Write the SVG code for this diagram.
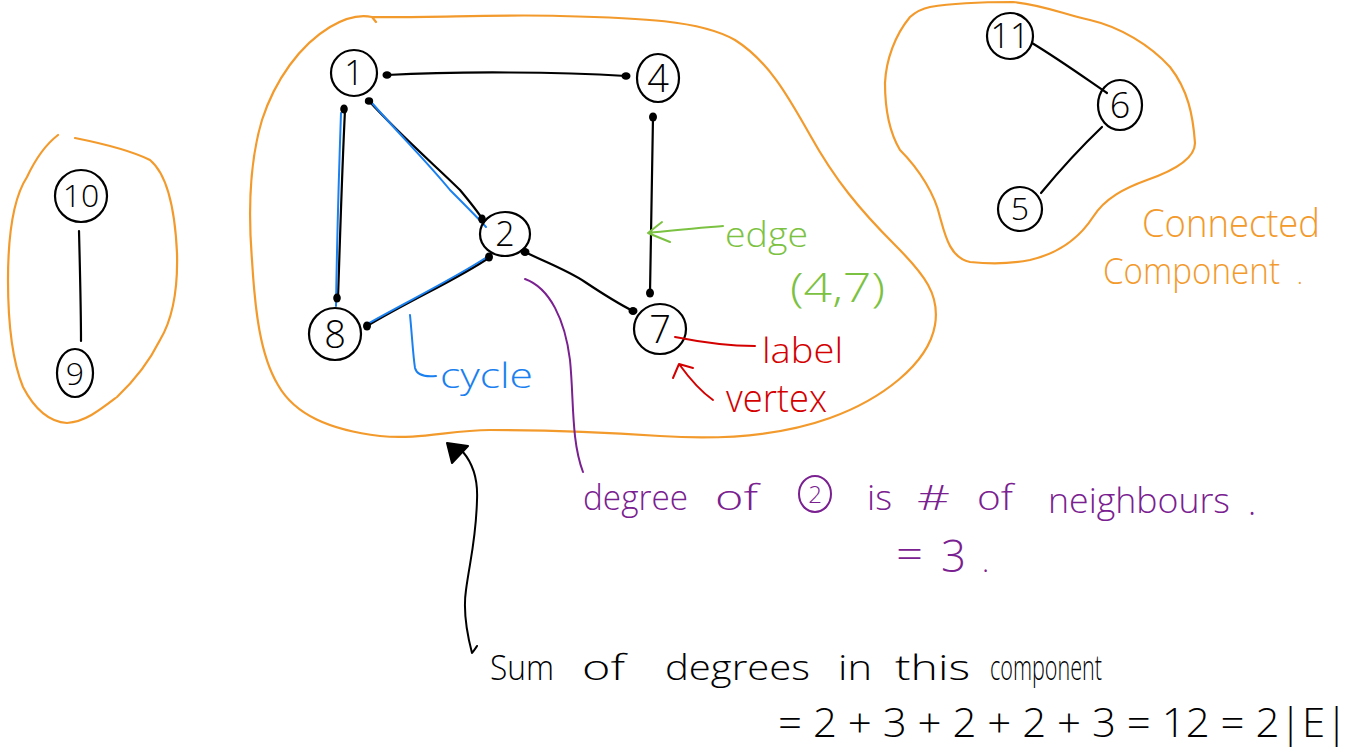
<svg xmlns="http://www.w3.org/2000/svg" width="1355" height="750" viewBox="0 0 1355 750">
<style>
.blob{fill:none;stroke:#f39a2c;stroke-width:2.2;stroke-linecap:round;stroke-linejoin:round}
.node ellipse{fill:none;stroke:#000;stroke-width:2.2}
.nl{font-family:'Open Sans',Lato,'Liberation Sans',sans-serif;font-weight:300;text-anchor:middle;fill:#000}
.edge{fill:none;stroke:#000;stroke-width:2.2;stroke-linecap:round}
.cyc{fill:none;stroke:#1a80f0;stroke-width:2;stroke-linecap:round}
.dot{fill:#000}
.hw{font-family:'Open Sans',Lato,'Liberation Sans',sans-serif;font-weight:300}
.ann{fill:none;stroke-width:2;stroke-linecap:round;stroke-linejoin:round}
</style>
<rect width="1355" height="750" fill="#fff"/>

<g id="components">
<path class="blob" d="M372,17 C430,18 500,14 560,16 C640,18 700,20 735,40 C770,62 790,100 810,135 C835,180 860,210 895,245 C925,275 940,295 935,325 C928,365 880,400 830,418 C780,436 720,440 660,436 C600,432 540,430 490,430 C450,430 420,440 380,436 C330,430 295,415 278,385 C260,355 255,310 252,260 C248,210 250,160 262,120 C275,80 300,45 330,27 C345,18 358,14 372,17 L376,22"/>
<path class="blob" d="M75,138 C100,143 130,150 150,160 C168,175 175,210 177,253 C178,290 172,320 160,340 C150,360 135,380 117,397 C100,410 85,422 67,423 C50,422 35,410 23,387 C12,360 8,320 8,280 C8,240 12,200 27,177 C35,160 45,145 58,135"/>
<path class="blob" d="M930,7 C960,2 990,2 1013,2 C1045,5 1065,15 1090,20 C1120,27 1150,45 1170,67 C1188,90 1193,115 1195,143 C1195,160 1170,172 1147,180 C1125,188 1105,198 1093,217 C1080,237 1060,253 1030,260 C1010,264 990,264 970,262 C950,258 945,235 940,217 C935,195 920,170 900,150 C888,130 885,105 885,83 C886,60 895,35 910,17 C918,10 925,8 930,7 Z"/>
</g>

<g id="connectors">
<path class="edge" d="M387,75 C460,71 560,72 626,76"/>
<path class="edge" d="M369,101 C400,135 440,170 460,190 C470,202 478,212 483,220"/>
<path class="cyc" d="M372,103 C400,135 430,165 450,190 C465,205 478,218 486,227"/>
<path class="edge" d="M345,110 C342,170 340,240 338,298"/>
<path class="cyc" d="M341,113 C339,170 337,240 336,306"/>
<path class="edge" d="M367,326 C410,300 460,278 490,257"/>
<path class="cyc" d="M369,323 C410,300 455,278 487,257"/>
<path class="edge" d="M525,252 C545,262 567,270 585,282 C600,292 615,302 633,311"/>
<path class="edge" d="M653,117 C652,180 651,240 650,293"/>
<path class="edge" d="M79,231 C80,270 81,310 81,341"/>
<path class="edge" d="M1032,43 C1060,60 1085,78 1107,93"/>
<path class="edge" d="M1102,127 C1080,148 1060,170 1041,193"/>
<ellipse class="dot" cx="387" cy="75" rx="4.5" ry="3.8"/>
<ellipse class="dot" cx="626" cy="76" rx="4.5" ry="3.8"/>
<ellipse class="dot" cx="369" cy="101" rx="4.2" ry="3.8"/>
<ellipse class="dot" cx="482" cy="219" rx="3.8" ry="4.5"/>
<ellipse class="dot" cx="344" cy="109" rx="3.8" ry="4.5"/>
<ellipse class="dot" cx="337" cy="298" rx="3.8" ry="4.5"/>
<ellipse class="dot" cx="367" cy="326" rx="4" ry="4.5"/>
<ellipse class="dot" cx="489" cy="257" rx="4" ry="4.5"/>
<ellipse class="dot" cx="525" cy="252" rx="4.5" ry="4"/>
<ellipse class="dot" cx="633" cy="311" rx="4.5" ry="4"/>
<ellipse class="dot" cx="653" cy="117" rx="4" ry="4.5"/>
<ellipse class="dot" cx="650" cy="293" rx="4" ry="4.5"/>
</g>

<g id="node-1" class="node"><ellipse cx="354" cy="73" rx="23" ry="23"/><text class="nl" x="354" y="85" font-size="34">1</text></g>
<g id="node-4" class="node"><ellipse cx="658" cy="78" rx="21" ry="24"/><text class="nl" x="658" y="92" font-size="38">4</text></g>
<g id="node-2" class="node"><ellipse cx="505" cy="234" rx="25" ry="22"/><text class="nl" x="505" y="246" font-size="34">2</text></g>
<g id="node-8" class="node"><ellipse cx="335" cy="334" rx="26" ry="26"/><text class="nl" x="335" y="348" font-size="38">8</text></g>
<g id="node-7" class="node"><ellipse cx="660" cy="329" rx="26" ry="25"/><text class="nl" x="660" y="343" font-size="38">7</text></g>
<g id="node-10" class="node"><ellipse cx="81" cy="196" rx="26" ry="26"/><text class="nl" x="81" y="207" font-size="32">10</text></g>
<g id="node-9" class="node"><ellipse cx="75" cy="373" rx="18" ry="24"/><text class="nl" x="75" y="385" font-size="32">9</text></g>
<g id="node-11" class="node"><ellipse cx="1010" cy="36" rx="23" ry="23"/><text class="nl" x="1010" y="48" font-size="34">11</text></g>
<g id="node-6" class="node"><ellipse cx="1120" cy="105" rx="22" ry="25"/><text class="nl" x="1120" y="118" font-size="36">6</text></g>
<g id="node-5" class="node"><ellipse cx="1020" cy="209" rx="22" ry="22"/><text class="nl" x="1020" y="220" font-size="32">5</text></g>

<g id="annotation-cycle">
<path class="ann" stroke="#1a80f0" d="M410,315 C412,335 413,355 415,368 C417,376 426,377 436,376"/>
<text class="hw" x="440" y="388" font-size="34" fill="#1a80f0" textLength="93" lengthAdjust="spacingAndGlyphs">cycle</text>
</g>

<g id="annotation-edge">
<path class="ann" stroke="#7cc242" d="M723,226 C700,228 675,230 648,233 M662,222 L648,233 L670,242"/>
<text class="hw" x="725" y="247" font-size="34" fill="#7cc242" textLength="83" lengthAdjust="spacingAndGlyphs">edge</text>
<text class="hw" x="790" y="302" font-size="40" fill="#7cc242" textLength="95" lengthAdjust="spacingAndGlyphs">(4,7)</text>
</g>

<g id="annotation-label">
<path class="ann" stroke="#d40000" d="M675,337 C700,342 725,346 755,346"/>
<text class="hw" x="762" y="363" font-size="34" fill="#d40000" textLength="81" lengthAdjust="spacingAndGlyphs">label</text>
<path class="ann" stroke="#d40000" d="M713,400 C703,393 692,382 679,364 M673,378 L679,364 L693,368"/>
<text class="hw" x="726" y="412" font-size="38" fill="#d40000" textLength="101" lengthAdjust="spacingAndGlyphs">vertex</text>
</g>

<g id="annotation-degree" fill="#7a2090">
<path class="ann" stroke="#7a2090" d="M525,279 C550,288 565,320 570,360 C574,400 571,440 583,472"/>
<text class="hw" x="583" y="510" font-size="34" textLength="105" lengthAdjust="spacingAndGlyphs">degree</text>
<text class="hw" x="715" y="510" font-size="34" textLength="43" lengthAdjust="spacingAndGlyphs">of</text>
<ellipse cx="815" cy="494" rx="16" ry="18" fill="none" stroke="#7a2090" stroke-width="2"/>
<text class="hw" x="815" y="503" font-size="24" text-anchor="middle">2</text>
<text class="hw" x="867" y="510" font-size="34" textLength="25" lengthAdjust="spacingAndGlyphs">is</text>
<text class="hw" x="917" y="510" font-size="34" textLength="33" lengthAdjust="spacingAndGlyphs">#</text>
<text class="hw" x="977" y="510" font-size="34" textLength="36" lengthAdjust="spacingAndGlyphs">of</text>
<text class="hw" x="1048" y="513" font-size="34" textLength="182" lengthAdjust="spacingAndGlyphs">neighbours</text>
<text class="hw" x="1248" y="515" font-size="34">.</text>
<text class="hw" x="896" y="568" font-size="40" textLength="27" lengthAdjust="spacingAndGlyphs">=</text>
<text class="hw" x="941" y="572" font-size="44" textLength="25" lengthAdjust="spacingAndGlyphs">3</text>
<text class="hw" x="982" y="572" font-size="30">.</text>
</g>

<g id="annotation-sum">
<path class="ann" stroke="#000" d="M472,653 C466,630 463,610 466,590 C470,560 476,540 477,500 C478,480 474,465 463,452 M472,653 C474,650 476,648 477,646"/>
<path d="M447,443 L468,446 L452,463 Z" fill="#000" stroke="#000" stroke-width="2" stroke-linejoin="round"/>
<text class="hw" x="490" y="680" font-size="34" fill="#000">
<tspan x="490" textLength="64" lengthAdjust="spacingAndGlyphs">Sum</tspan><tspan x="582" textLength="43" lengthAdjust="spacingAndGlyphs">of</tspan><tspan x="665" textLength="145" lengthAdjust="spacingAndGlyphs">degrees</tspan><tspan x="838" textLength="34" lengthAdjust="spacingAndGlyphs">in</tspan><tspan x="895" textLength="75" lengthAdjust="spacingAndGlyphs">this</tspan><tspan x="990" textLength="112" lengthAdjust="spacingAndGlyphs">component</tspan></text>
<text class="hw" x="778" y="737" font-size="40" fill="#000" textLength="570" lengthAdjust="spacingAndGlyphs">= 2 + 3 + 2 + 2 + 3 = 12 = 2|E|</text>
</g>

<g id="annotation-component" fill="#f39a2c">
<text class="hw" x="1142" y="237" font-size="38" textLength="178" lengthAdjust="spacingAndGlyphs">Connected</text>
<text class="hw" x="1103" y="284" font-size="36" textLength="177" lengthAdjust="spacingAndGlyphs">Component</text>
<text class="hw" x="1297" y="284" font-size="24">.</text>
</g>
</svg>
